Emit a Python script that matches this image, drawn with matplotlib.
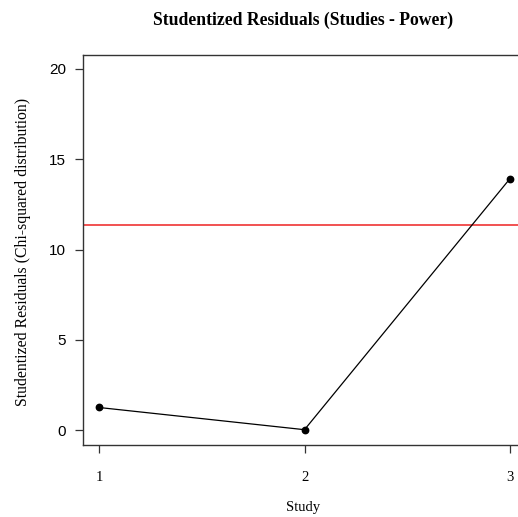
import matplotlib
matplotlib.use("Agg")
import matplotlib.pyplot as plt

studies = [1, 2, 3]
residuals = [1.25, 0.02, 13.93]
critical_value = 11.345
y_ticks = [0, 5, 10, 15, 20]

fig = plt.figure(figsize=(5.18, 5.17), dpi=100)
ax = fig.add_axes([82.5 / 518, 1 - 444.5 / 517, (526.5 - 82.5) / 518, (444.5 - 54.5) / 517])

ax.plot(studies, residuals, color="black", lw=0.9, marker="o", ms=4.6, zorder=3)
ax.axhline(critical_value, color="#ee2222", lw=1.1, zorder=2)

ax.set_xlim(0.92, 3.08)
ax.set_ylim(-0.8, 20.8)
ax.set_xticks(studies)
ax.set_yticks(y_ticks)
ax.set_xticklabels([str(s) for s in studies], fontfamily="Liberation Serif", fontsize=10.5)
ax.set_yticklabels([str(t) for t in y_ticks], fontfamily="Liberation Sans", fontsize=11)
ax.tick_params(axis="both", direction="out", length=6, width=0.9, color="#333333")
ax.tick_params(axis="x", pad=13)
ax.tick_params(axis="y", pad=6)

for side in ["left", "bottom", "top", "right"]:
    ax.spines[side].set_color("#333333")
    ax.spines[side].set_linewidth(1.0)

fig.text(303 / 518, 1 - 507 / 517, "Study", ha="center", va="center",
         fontfamily="Liberation Serif", fontsize=10.5)
fig.text(23 / 518, 1 - 252 / 517, "Studentized Residuals (Chi-squared distribution)",
         ha="center", va="center", rotation=90, fontfamily="Liberation Serif", fontsize=11.3)
fig.text(303.5 / 518, 1 - 20 / 517, "Studentized Residuals (Studies - Power)", ha="center", va="center",
         fontfamily="Liberation Serif", fontweight="bold", fontsize=12.7)

fig.savefig("out.png", dpi=100)
